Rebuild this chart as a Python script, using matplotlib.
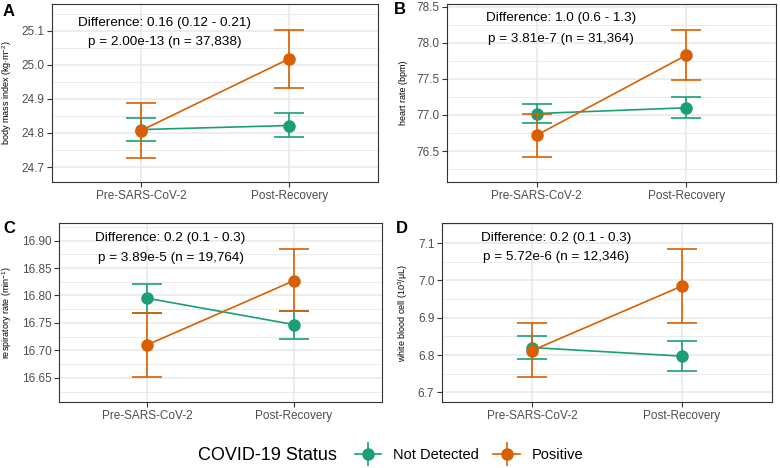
import numpy as np
import matplotlib.pyplot as plt
from matplotlib.lines import Line2D
from matplotlib.ticker import MultipleLocator, FormatStrFormatter

plt.rcParams['font.family'] = ['Liberation Sans', 'DejaVu Sans']
plt.rcParams['mathtext.fontset'] = 'custom'
plt.rcParams['mathtext.rm'] = 'Liberation Sans'
plt.rcParams['mathtext.it'] = 'Liberation Sans:italic'

# 数据
timepoints = ['Pre-SARS-CoV-2', 'Post-Recovery']
groups = ['Not Detected', 'Positive']
colors = ['#1B9E77', '#D95F02']

# 每个面板: 均值 / 下限 / 上限 (Not Detected, Positive)
bmi_mean = [[24.810, 24.822], [24.807, 25.018]]
bmi_low = [[24.775, 24.787], [24.727, 24.933]]
bmi_high = [[24.845, 24.860], [24.888, 25.104]]

hr_mean = [[77.02, 77.10], [76.72, 77.83]]
hr_low = [[76.89, 76.96], [76.41, 77.49]]
hr_high = [[77.15, 77.25], [77.02, 78.18]]

rr_mean = [[16.795, 16.747], [16.710, 16.827]]
rr_low = [[16.768, 16.721], [16.652, 16.771]]
rr_high = [[16.821, 16.772], [16.769, 16.885]]

wbc_mean = [[6.820, 6.797], [6.812, 6.985]]
wbc_low = [[6.789, 6.756], [6.740, 6.886]]
wbc_high = [[6.852, 6.837], [6.885, 7.084]]

ylabels = ['body mass index (kg$\\cdot$m$^{-2}$)', 'heart rate (bpm)',
           'respiratory rate (min$^{-1}$)', 'white blood cell (10$^{3}$/\u03bcL)']
diff_text = ['Difference: 0.16 (0.12 - 0.21)', 'Difference: 1.0 (0.6 - 1.3)',
             'Difference: 0.2 (0.1 - 0.3)', 'Difference: 0.2 (0.1 - 0.3)']
p_text = ['p = 2.00e-13 (n = 37,838)', 'p = 3.81e-7 (n = 31,364)',
          'p = 3.89e-5 (n = 19,764)', 'p = 5.72e-6 (n = 12,346)']
letters = ['A', 'B', 'C', 'D']

W, H = 780, 468
fig = plt.figure(figsize=(7.8, 4.68), dpi=100)


def px_axes(l, t, r, b):
    return fig.add_axes([l / W, 1 - b / H, (r - l) / W, (b - t) / H])


panels = [
    dict(box=(52, 4, 378, 182), ylim=(24.656, 25.179), step=0.1, fmt='%.1f',
         mean=bmi_mean, low=bmi_low, high=bmi_high, ty=(0.893, 0.787), lab=(3, 11), ylx=14),
    dict(box=(447, 4, 776, 182), ylim=(76.07, 78.54), step=0.5, fmt='%.1f',
         mean=hr_mean, low=hr_low, high=hr_high, ty=(0.921, 0.803), lab=(394, 10), ylx=408),
    dict(box=(59, 223, 382, 402), ylim=(16.606, 16.932), step=0.05, fmt='%.2f',
         mean=rr_mean, low=rr_low, high=rr_high, ty=(0.916, 0.804), lab=(3, 228), ylx=14),
    dict(box=(442, 223, 772, 402), ylim=(6.674, 7.154), step=0.1, fmt='%.1f',
         mean=wbc_mean, low=wbc_low, high=wbc_high, ty=(0.916, 0.81), lab=(396, 228), ylx=410),
]

x = np.arange(1, len(timepoints) + 1)
for k, p in enumerate(panels):
    ax = px_axes(*p['box'])
    for g in range(len(groups)):
        m = np.array(p['mean'][g])
        lo = m - np.array(p['low'][g])
        hi = np.array(p['high'][g]) - m
        ax.errorbar(x, m, yerr=[lo, hi], fmt='-o', color=colors[g], lw=1.2,
                    elinewidth=1.2, capsize=10.8, capthick=1.2, markersize=8, zorder=3 + g)
    ax.set_xlim(0.4, 2.6)
    ax.set_ylim(*p['ylim'])
    ax.set_xticks(x)
    ax.set_xticklabels(timepoints)
    ax.yaxis.set_major_locator(MultipleLocator(p['step']))
    ax.yaxis.set_minor_locator(MultipleLocator(p['step'] / 2))
    ax.yaxis.set_major_formatter(FormatStrFormatter(p['fmt']))
    ax.grid(True, which='major', color='#E8E8E8', lw=1.1, zorder=0)
    ax.grid(True, which='minor', axis='y', color='#E8E8E8', lw=0.6, zorder=0)
    ax.set_axisbelow(True)
    ax.tick_params(which='major', length=3.5, color='#333333', labelsize=8.5, labelcolor='#4D4D4D', pad=2)
    ax.tick_params(which='minor', length=0)
    for s in ax.spines.values():
        s.set_color('#333333')
        s.set_linewidth(0.8)
    ax.set_ylabel(ylabels[k], fontsize=6.5)
    l, t, r, b = p['box']
    ax.yaxis.set_label_coords((p['ylx'] - l) / (r - l), 0.5)
    ax.annotate(diff_text[k], xy=(1.16, p['ty'][0]), xycoords=('data', 'axes fraction'),
                ha='center', va='center', fontsize=9.7)
    ax.annotate(p_text[k], xy=(1.16, p['ty'][1]), xycoords=('data', 'axes fraction'),
                ha='center', va='center', fontsize=9.7)
    fig.text(p['lab'][0] / W, 1 - p['lab'][1] / H, letters[k], fontsize=12,
             fontweight='bold', ha='left', va='center')

# 图例
handles = []
for g in range(len(groups)):
    handles.append((Line2D([], [], color=colors[g], lw=1.2, marker='o', markersize=8),
                    Line2D([], [], color=colors[g], lw=0, marker='|', markersize=17, markeredgewidth=1.2)))
fig.text(198 / W, 1 - 455 / H, 'COVID-19 Status', fontsize=13, ha='left', va='center')
fig.legend(handles, groups, loc='center left', bbox_to_anchor=(355 / W, 1 - 455 / H),
           ncol=2, frameon=False, fontsize=10.5, handlelength=1.8, handletextpad=0.8,
           columnspacing=1.0, borderaxespad=0, borderpad=0)

plt.savefig('out.png', dpi=100)
